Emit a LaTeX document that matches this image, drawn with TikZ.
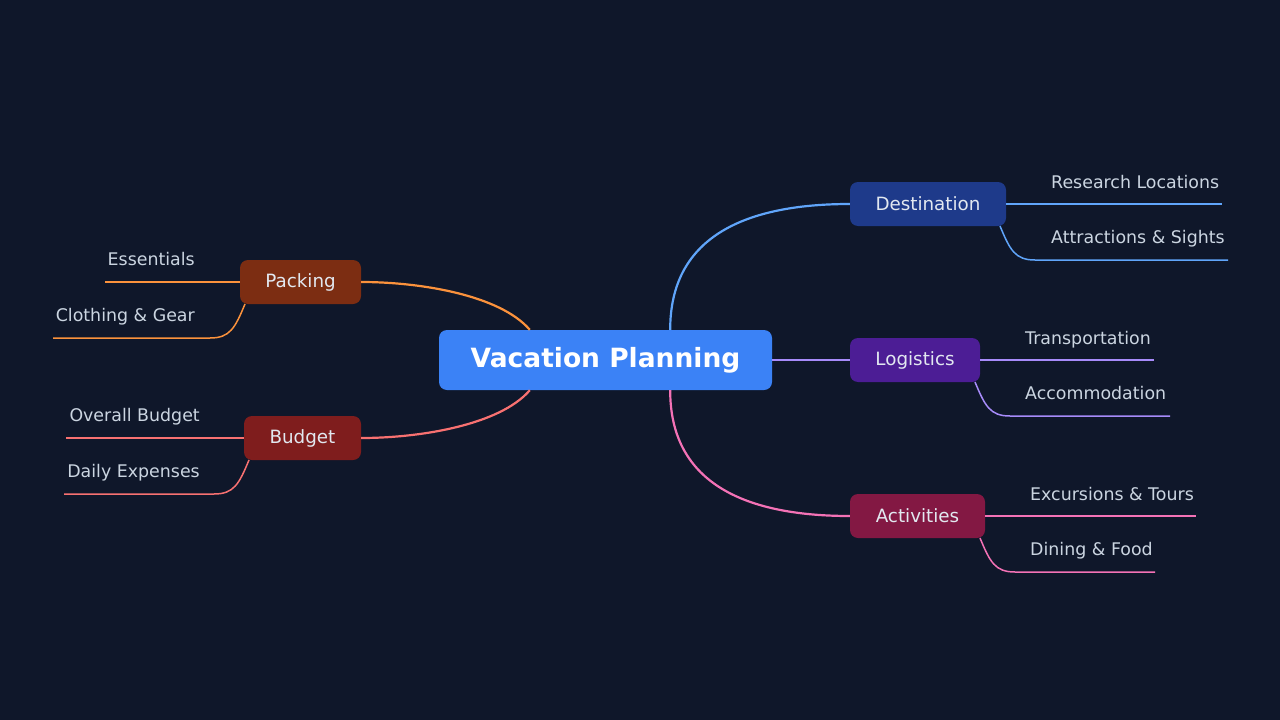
\documentclass[tikz,border=0pt]{standalone}
\usepackage{fontspec}
\setmainfont{DejaVu Sans}
\usetikzlibrary{positioning}
\definecolor{bg}{HTML}{0F172A}
\definecolor{leaftext}{HTML}{CBD5E1}
\definecolor{branchtext}{HTML}{E2E8F0}
\definecolor{rootfill}{HTML}{3B82F6}
\definecolor{destfill}{HTML}{1E3A8A}
\definecolor{logifill}{HTML}{4C1D95}
\definecolor{actifill}{HTML}{831843}
\definecolor{packfill}{HTML}{7C2D12}
\definecolor{budgfill}{HTML}{7F1D1D}
\definecolor{destline}{HTML}{60A5FA}
\definecolor{logiline}{HTML}{A78BFA}
\definecolor{actiline}{HTML}{F472B6}
\definecolor{packline}{HTML}{FB923C}
\definecolor{budgline}{HTML}{F87171}
\begin{document}
\begin{tikzpicture}
        [ x=1pt, y=-1pt
        , root/.style={rounded corners=8pt, fill=rootfill, text=white, font=\bfseries\fontsize{26.5}{30}\selectfont, minimum width=333pt, minimum height=60pt}
        , branch/.style={rounded corners=8pt, text=branchtext, font=\fontsize{18.3}{22}\selectfont, minimum height=44pt}
        , leaf/.style={text=leaftext, font=\fontsize{17.4}{21}\selectfont, inner sep=0pt}
        , trunk/.style={line width=2.2pt}
        , twig/.style={line width=1.5pt}
        ]
        \fill[bg] (0,0) rectangle (1280,720);

        \node (root) [root] at (605.5,360) {\raisebox{-1.5pt}{Vacation Planning}};

        \node (dest) [branch, fill=destfill, minimum width=156pt] at (928,204) {Destination};
        \node (logi) [branch, fill=logifill, minimum width=130pt] at (915,360) {Logistics};
        \node (acti) [branch, fill=actifill, minimum width=135pt] at (917.5,516) {Activities};
        \node (pack) [branch, fill=packfill, minimum width=121pt] at (300.5,282) {Packing};
        \node (budg) [branch, fill=budgfill, minimum width=117pt] at (302.5,438) {Budget};

        % trunks
        \draw[trunk, destline] (root.north east) ++(-102,0) coordinate (r1) .. controls (670,240) and (740,204) .. (dest.west);
        \draw[trunk, logiline] (root.east) -- (logi.west);
        \draw[trunk, actiline] (root.south east) ++(-102,0) coordinate (r2) .. controls (670,480) and (740,516) .. (acti.west);
        \draw[trunk, packline] (root.north west) ++(91,0) coordinate (r3) .. controls (500,295) and (420,282) .. (pack.east);
        \draw[trunk, budgline] (root.south west) ++(91,0) coordinate (r4) .. controls (500,425) and (420,438) .. (budg.east);

        % leaves, right side
        \node (d1) [leaf, anchor=base west] at (1051,188) {Research Locations};
        \node (d2) [leaf, anchor=base west] at (1051,243) {Attractions \& Sights};
        \coordinate (d1e) at (1222,204);
        \coordinate (d2e) at (1228,260);
        \draw[twig, destline] (dest.east) -- (d1e);
        \draw[twig, destline] (1000,226) .. controls (1010,250) and (1015,260) .. (1035,260) -- (d2e);

        \node (l1) [leaf, anchor=base west] at (1025,344) {Transportation};
        \node (l2) [leaf, anchor=base west] at (1025,399) {Accommodation};
        \coordinate (l1e) at (1154,360);
        \coordinate (l2e) at (1170,416);
        \draw[twig, logiline] (logi.east) -- (l1e);
        \draw[twig, logiline] (975,382) .. controls (985,406) and (990,416) .. (1010,416) -- (l2e);

        \node (a1) [leaf, anchor=base west] at (1030,500) {Excursions \& Tours};
        \node (a2) [leaf, anchor=base west] at (1030,555) {Dining \& Food};
        \coordinate (a1e) at (1196,516);
        \coordinate (a2e) at (1155,572);
        \draw[twig, actiline] (acti.east) -- (a1e);
        \draw[twig, actiline] (980,538) .. controls (990,562) and (995,572) .. (1015,572) -- (a2e);

        % leaves, left side
        \node (p1) [leaf, anchor=base east] at (195,265) {Essentials};
        \node (p2) [leaf, anchor=base east] at (195,321) {Clothing \& Gear};
        \coordinate (p1e) at (105,282);
        \coordinate (p2e) at (53,338);
        \draw[twig, packline] (pack.west) -- (p1e);
        \draw[twig, packline] (245,304) .. controls (235,328) and (230,338) .. (210,338) -- (p2e);

        \node (b1) [leaf, anchor=base east] at (200,421) {Overall Budget};
        \node (b2) [leaf, anchor=base east] at (200,477) {Daily Expenses};
        \coordinate (b1e) at (66,438);
        \coordinate (b2e) at (64,494);
        \draw[twig, budgline] (budg.west) -- (b1e);
        \draw[twig, budgline] (249,460) .. controls (239,484) and (234,494) .. (214,494) -- (b2e);
\end{tikzpicture}
\end{document}
